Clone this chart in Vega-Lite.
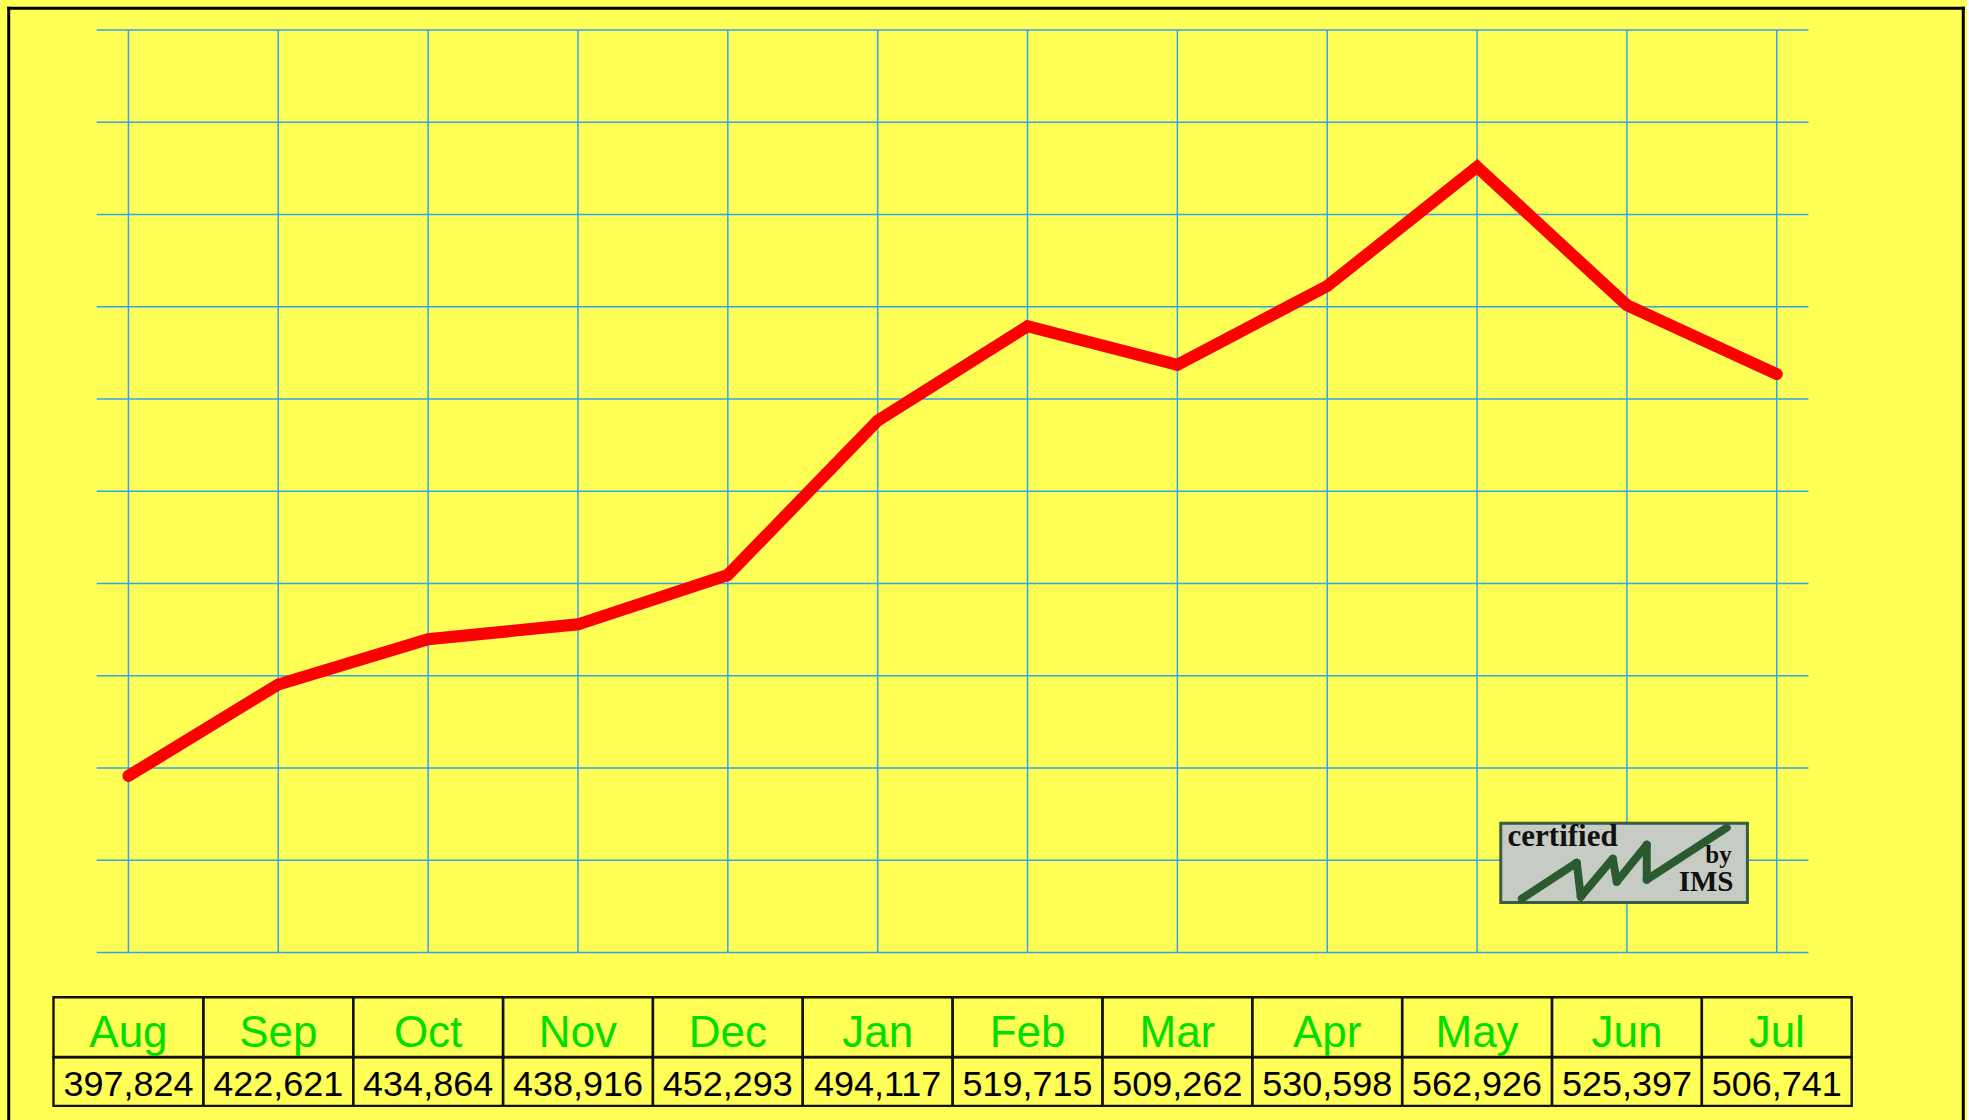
{
  "$schema": "https://vega.github.io/schema/vega-lite/v6.json",
  "background": "#ffff55",
  "padding": {"left": 5.5, "top": 5, "right": 0, "bottom": 0},
  "bounds": "flush",
  "spacing": 44.3,
  "data": {"values": [
    {"month": "Aug", "value": 397824},
    {"month": "Sep", "value": 422621},
    {"month": "Oct", "value": 434864},
    {"month": "Nov", "value": 438916},
    {"month": "Dec", "value": 452293},
    {"month": "Jan", "value": 494117},
    {"month": "Feb", "value": 519715},
    {"month": "Mar", "value": 509262},
    {"month": "Apr", "value": 530598},
    {"month": "May", "value": 562926},
    {"month": "Jun", "value": 525397},
    {"month": "Jul", "value": 506741}
  ]},
  "resolve": {"scale": {"x": "independent", "y": "independent"}},
  "vconcat": [
    {
      "width": 1798.2,
      "height": 922.4,
      "layer": [
        {
          "mark": {"type": "rule", "stroke": "#33a3ee", "strokeWidth": 1.5},
          "encoding": {
            "x": {"field": "month", "type": "ordinal", "sort": null,
              "scale": {"type": "point", "padding": 0.5, "domain": ["Aug","Sep","Oct","Nov","Dec","Jan","Feb","Mar","Apr","May","Jun","Jul"]}},
            "y": {"datum": 600000, "type": "quantitative", "scale": {"domain": [350000, 600000], "nice": false, "zero": false}},
            "y2": {"datum": 350000}
          }
        },
        {
          "data": {"values": [{"v": 350000}, {"v": 375000}, {"v": 400000}, {"v": 425000}, {"v": 450000}, {"v": 475000}, {"v": 500000}, {"v": 525000}, {"v": 550000}, {"v": 575000}, {"v": 600000}]},
          "mark": {"type": "rule", "stroke": "#33a3ee", "strokeWidth": 1.5, "xOffset": -31.7, "x2Offset": 31.7},
          "encoding": {"x": {"datum": "Aug", "type": "ordinal"}, "x2": {"datum": "Jul"}, "y": {"field": "v", "type": "quantitative"}}
        },
        {
          "mark": {"type": "line", "stroke": "#ff0000", "strokeWidth": 12, "strokeCap": "round", "strokeJoin": "miter"},
          "encoding": {
            "x": {"field": "month", "type": "ordinal", "sort": null},
            "y": {"field": "value", "type": "quantitative"}
          }
        },
        {
          "data": {"values": [{}]},
          "mark": {"type": "rect", "fill": "#c6ccc4", "stroke": "#3b5c40", "strokeWidth": 3, "xOffset": 23.7, "x2Offset": 120.5},
          "encoding": {"x": {"datum": "May", "type": "ordinal"}, "x2": {"datum": "Jun"}, "y": {"datum": 385000, "type": "quantitative"}, "y2": {"datum": 363500}}
        },
        {
          "data": {"values": [{}]},
          "mark": {"type": "text", "text": "certified", "font": "Liberation Serif", "fontWeight": "bold", "fontSize": 31, "align": "left", "baseline": "alphabetic", "dx": 30.5, "fill": "#111111"},
          "encoding": {"x": {"datum": "May", "type": "ordinal"}, "y": {"datum": 378840, "type": "quantitative"}}
        },
        {
          "data": {"values": [{}]},
          "mark": {"type": "text", "text": "by", "font": "Liberation Serif", "fontWeight": "bold", "fontSize": 25, "align": "right", "baseline": "alphabetic", "dx": 104.8, "fill": "#111111"},
          "encoding": {"x": {"datum": "Jun", "type": "ordinal"}, "y": {"datum": 374120, "type": "quantitative"}}
        },
        {
          "data": {"values": [{}]},
          "mark": {"type": "text", "text": "IMS", "font": "Liberation Serif", "fontWeight": "bold", "fontSize": 29, "align": "right", "baseline": "alphabetic", "dx": 106.5, "fill": "#111111"},
          "encoding": {"x": {"datum": "Jun", "type": "ordinal"}, "y": {"datum": 366720, "type": "quantitative"}}
        },
        {
          "data": {"values": [{}]},
          "mark": {"type": "rule", "stroke": "#2b5a30", "strokeWidth": 8, "strokeCap": "round", "xOffset": 44.7, "x2Offset": 99.7},
          "encoding": {"x": {"datum": "May", "type": "ordinal"}, "x2": {"datum": "May"}, "y": {"datum": 364550, "type": "quantitative"}, "y2": {"datum": 374310}}
        },
        {
          "data": {"values": [{}]},
          "mark": {"type": "rule", "stroke": "#2b5a30", "strokeWidth": 8, "strokeCap": "round", "xOffset": 99.7, "x2Offset": 103.7},
          "encoding": {"x": {"datum": "May", "type": "ordinal"}, "x2": {"datum": "May"}, "y": {"datum": 374310, "type": "quantitative"}, "y2": {"datum": 365100}}
        },
        {
          "data": {"values": [{}]},
          "mark": {"type": "rule", "stroke": "#2b5a30", "strokeWidth": 8, "strokeCap": "round", "xOffset": 103.7, "x2Offset": 135.7},
          "encoding": {"x": {"datum": "May", "type": "ordinal"}, "x2": {"datum": "May"}, "y": {"datum": 365100, "type": "quantitative"}, "y2": {"datum": 375400}}
        },
        {
          "data": {"values": [{}]},
          "mark": {"type": "rule", "stroke": "#2b5a30", "strokeWidth": 8, "strokeCap": "round", "xOffset": 135.7, "x2Offset": 139.7},
          "encoding": {"x": {"datum": "May", "type": "ordinal"}, "x2": {"datum": "May"}, "y": {"datum": 375400, "type": "quantitative"}, "y2": {"datum": 369160}}
        },
        {
          "data": {"values": [{}]},
          "mark": {"type": "rule", "stroke": "#2b5a30", "strokeWidth": 8, "strokeCap": "round", "xOffset": 139.7, "x2Offset": 169.7},
          "encoding": {"x": {"datum": "May", "type": "ordinal"}, "x2": {"datum": "May"}, "y": {"datum": 369160, "type": "quantitative"}, "y2": {"datum": 379190}}
        },
        {
          "data": {"values": [{}]},
          "mark": {"type": "rule", "stroke": "#2b5a30", "strokeWidth": 8, "strokeCap": "round", "xOffset": 169.7, "x2Offset": 169.7},
          "encoding": {"x": {"datum": "May", "type": "ordinal"}, "x2": {"datum": "May"}, "y": {"datum": 379190, "type": "quantitative"}, "y2": {"datum": 369700}}
        },
        {
          "data": {"values": [{}]},
          "mark": {"type": "rule", "stroke": "#2b5a30", "strokeWidth": 8, "strokeCap": "round", "xOffset": 169.7, "x2Offset": 249.7},
          "encoding": {"x": {"datum": "May", "type": "ordinal"}, "x2": {"datum": "May"}, "y": {"datum": 369700, "type": "quantitative"}, "y2": {"datum": 383800}}
        },
        {
          "data": {"values": [{}]},
          "mark": {"type": "rule", "stroke": "black", "strokeWidth": 3, "xOffset": -119.7, "yOffset": -23.3, "y2Offset": 168},
          "encoding": {"x": {"datum": "Aug", "type": "ordinal"}, "y": {"datum": 600000, "type": "quantitative"}, "y2": {"datum": 350000}}
        },
        {
          "data": {"values": [{}]},
          "mark": {"type": "rule", "stroke": "black", "strokeWidth": 3, "xOffset": -121.2, "x2Offset": 188, "yOffset": -21.8},
          "encoding": {"x": {"datum": "Aug", "type": "ordinal"}, "x2": {"datum": "Jul"}, "y": {"datum": 600000, "type": "quantitative"}}
        },
        {
          "data": {"values": [{}]},
          "mark": {"type": "rule", "stroke": "black", "strokeWidth": 3, "xOffset": 186.5, "yOffset": -23.3, "y2Offset": 168},
          "encoding": {"x": {"datum": "Jul", "type": "ordinal"}, "y": {"datum": 600000, "type": "quantitative"}, "y2": {"datum": 350000}}
        }
      ]
    },
    {
      "vconcat": [
        {
          "width": 1798.2,
          "height": 59.7,
          "layer": [
            {
              "mark": {"type": "rect", "filled": false, "stroke": "#111111", "strokeWidth": 2.4},
              "encoding": {"x": {"field": "month", "type": "ordinal", "sort": null,
                "scale": {"type": "band", "paddingInner": 0, "paddingOuter": 0, "domain": ["Aug","Sep","Oct","Nov","Dec","Jan","Feb","Mar","Apr","May","Jun","Jul"]}}}
            },
            {
              "mark": {"type": "text", "font": "Liberation Sans", "fontSize": 44, "fill": "#00dd00", "baseline": "alphabetic", "dy": 19.5},
              "encoding": {"x": {"field": "month", "type": "ordinal", "sort": null}, "text": {"field": "month"}}
            }
          ]
        },
        {
          "width": 1798.2,
          "height": 48.6,
          "layer": [
            {
              "mark": {"type": "rect", "filled": false, "stroke": "#111111", "strokeWidth": 2.4},
              "encoding": {"x": {"field": "month", "type": "ordinal", "sort": null,
                "scale": {"type": "band", "paddingInner": 0, "paddingOuter": 0, "domain": ["Aug","Sep","Oct","Nov","Dec","Jan","Feb","Mar","Apr","May","Jun","Jul"]}}}
            },
            {
              "mark": {"type": "text", "font": "Liberation Sans", "fontSize": 36, "fill": "#000000", "baseline": "alphabetic", "dy": 14.5},
              "encoding": {"x": {"field": "month", "type": "ordinal", "sort": null}, "text": {"field": "value", "type": "quantitative", "format": ","}}
            }
          ]
        }
      ],
      "spacing": 0,
      "bounds": "flush",
      "resolve": {"scale": {"x": "independent"}}
    }
  ],
  "config": {"view": {"stroke": null}, "font": "Liberation Sans", "axis": {"disable": true}}
}
